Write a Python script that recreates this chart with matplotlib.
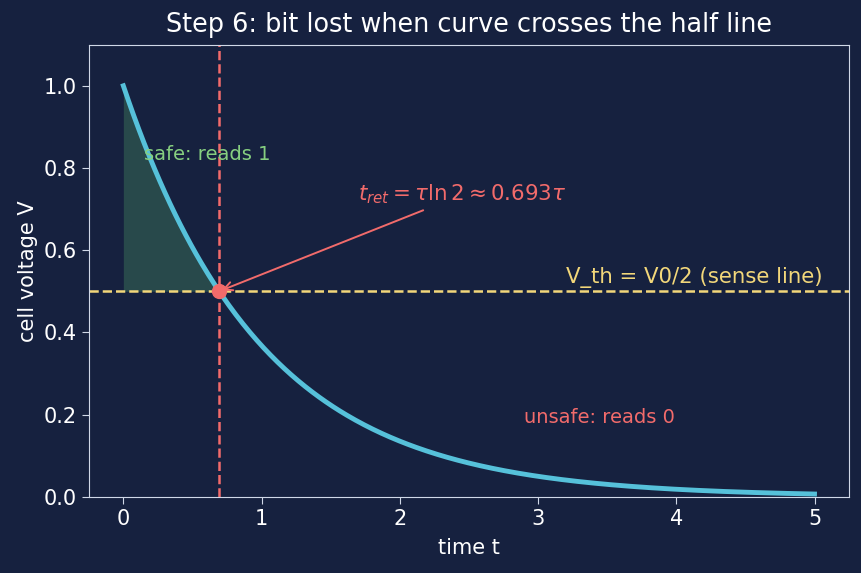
import numpy as np
import matplotlib.pyplot as plt

# decay curve V(t) = V0 * exp(-t/tau), tau = 1
tau = 1.0
v0 = 1.0
t_end = 5.0
v_th = v0 / 2
t_ret = tau * np.log(2)

title = "Step 6: bit lost when curve crosses the half line"
safe_label = "safe: reads 1"
unsafe_label = "unsafe: reads 0"
th_label = "V_th = V0/2 (sense line)"
ret_label = r"$t_{ret} = \tau \ln 2 \approx 0.693\tau$"

bg = "#16213f"
fg = "#ffffff"
curve_c = "#56c1da"
red = "#f26b6b"
yellow = "#f2d77a"
green = "#86cf80"

t = np.linspace(0, t_end, 400)
v = v0 * np.exp(-t / tau)

fig, ax = plt.subplots(figsize=(8.62, 5.73), dpi=100)
fig.patch.set_facecolor(bg)
ax.set_facecolor(bg)

ax.plot(t, v, color=curve_c, lw=3.5)
ts = t[t <= t_ret]
ax.fill_between(ts, v0 * np.exp(-ts / tau), v_th, color="#3f7a5a", alpha=0.45, lw=0)
ax.axhline(v_th, color=yellow, ls="--", lw=1.8)
ax.axvline(t_ret, color=red, ls="--", lw=1.8)
ax.plot([t_ret], [v_th], "o", color=red, ms=10, zorder=5)

ax.text(0.15, 0.82, safe_label, color=green, fontsize=14)
ax.text(2.9, 0.18, unsafe_label, color=red, fontsize=14)
ax.text(3.2, 0.52, th_label, color=yellow, fontsize=15.3)
ax.annotate(ret_label, xy=(t_ret, v_th), xytext=(1.7, 0.72), color=red, fontsize=15.4,
            arrowprops=dict(arrowstyle="->", color=red, lw=1.4))

ax.set_xlim(-0.25, 5.25)
ax.set_ylim(0, 1.1)
ax.set_title(title, color=fg, fontsize=18.4, pad=9)
ax.set_xlabel("time t", color=fg, fontsize=15, labelpad=7)
ax.set_ylabel("cell voltage V", color=fg, fontsize=15)
ax.tick_params(colors="#d0d8e8", labelcolor=fg, labelsize=15, length=5)
for s in ax.spines.values():
    s.set_color("#d0d8e8")

plt.subplots_adjust(left=0.103, right=0.985, top=0.922, bottom=0.133)
plt.savefig("out.png", facecolor=bg)
